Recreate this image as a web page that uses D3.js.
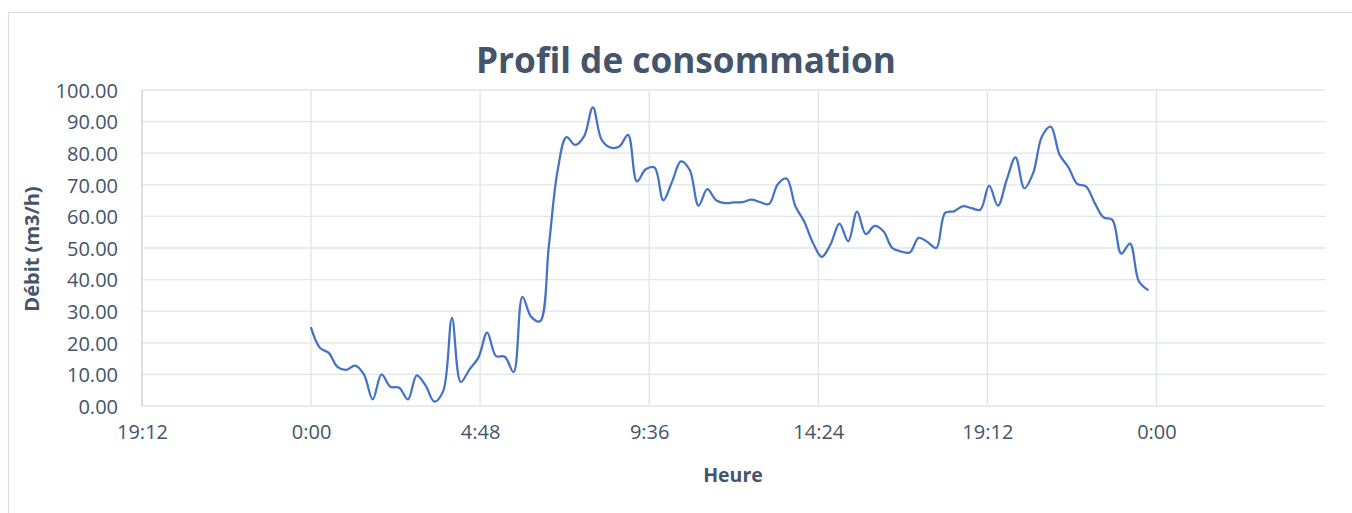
<!DOCTYPE html>
<html>
<head>
<meta charset="utf-8">
<script src="https://cdn.jsdelivr.net/npm/d3@7"></script>
<style>
  html, body { margin: 0; padding: 0; background: #fff; }
  svg { display: block; font-family: "Open Sans", sans-serif; }
  .grid line { stroke: #e1e4ea; stroke-width: 1.3; }
  .axis text { fill: #44546a; font-size: 20px; font-family: "Open Sans", sans-serif; }
  .axis path, .axis line { display: none; }
</style>
</head>
<body>
<svg id="chart" width="1352" height="513"></svg>
<script>
// BEGIN Profil de consommation CHART

// debit (m3/h), one reading every 15 min from 0:00 to 23:45
var debitValues = [
  24.7, 18.4, 16.8, 12.4, 11.4, 12.8, 10.0, 2.1, 10.0, 6.1, 5.8, 2.1,
  9.7, 6.5, 1.4, 4.7, 27.9, 7.6, 11.6, 15.3, 23.2, 15.8, 15.6, 10.7,
  34.5, 28.2, 26.8, 50.5, 74.5, 85.1, 82.6, 85.3, 94.5, 84.2, 81.8, 82.1,
  85.8, 71.1, 74.9, 75.5, 65.1, 71.0, 77.4, 74.7, 63.4, 68.6, 65.1, 64.2,
  64.4, 64.5, 65.3, 64.5, 63.9, 70.2, 72.0, 63.2, 58.4, 51.6, 47.2, 51.2,
  57.7, 52.1, 61.5, 54.4, 57.0, 55.3, 50.0, 48.9, 48.6, 53.2, 51.9, 50.0,
  61.1, 61.6, 63.2, 62.6, 62.1, 69.7, 63.4, 71.6, 78.7, 68.9, 73.7, 85.3,
  88.4, 79.5, 75.6, 70.3, 69.5, 64.2, 59.7, 58.9, 48.2, 51.4, 39.5, 36.8
];
var stepHours = 0.25;

// axis ticks, in hours from 0:00 (Excel major unit 0.2 day)
var xTickHours = [-4.8, 0, 4.8, 9.6, 14.4, 19.2, 24];
var yTickValues = [0, 10, 20, 30, 40, 50, 60, 70, 80, 90, 100];

var chartTitle = "Profil de consommation";
var xTitle = "Heure";
var yTitle = "Débit (m3/h)";

var svg = d3.select("#chart");

// chart border (only top and left are in the picture)
svg.append("path")
  .attr("d", "M8.5,513 V12.5 H1352")
  .attr("fill", "none")
  .attr("stroke", "#d9dde3")
  .attr("stroke-width", 1.2);

var x = d3.scaleLinear().domain([-4.8, 28.8]).range([142, 1325.5]);
var y = d3.scaleLinear().domain([0, 100]).range([406, 90]);

var points = debitValues.map(function (v, i) {
  return { h: i * stepHours, v: v };
});

// gridlines
svg.append("g").attr("class", "grid")
  .selectAll("line.h").data(yTickValues).enter().append("line")
  .attr("x1", x.range()[0]).attr("x2", x.range()[1])
  .attr("y1", function (d) { return y(d); })
  .attr("y2", function (d) { return y(d); });

svg.select("g.grid")
  .selectAll("line.v").data(xTickHours.slice(1)).enter().append("line")
  .attr("x1", function (d) { return x(d); })
  .attr("x2", function (d) { return x(d); })
  .attr("y1", y(100)).attr("y2", y(0));

// vertical axis line
svg.append("line")
  .attr("x1", x(-4.8)).attr("x2", x(-4.8))
  .attr("y1", y(100)).attr("y2", y(0) + 0.5)
  .attr("stroke", "#cdd3dc").attr("stroke-width", 1.5);

// y axis labels
svg.append("g").attr("class", "axis")
  .attr("transform", "translate(" + (x(-4.8) - 3) + ",0)")
  .call(d3.axisLeft(y).tickValues(yTickValues).tickSize(0).tickPadding(21)
    .tickFormat(d3.format(".2f")))
  .selectAll("text").attr("dy", "0.36em");

// x axis labels
function hm(h) {
  var m = Math.round((((h % 24) + 24) % 24) * 60);
  return Math.floor(m / 60) + ":" + d3.format("02d")(m % 60);
}
svg.append("g").attr("class", "axis")
  .attr("transform", "translate(0," + y(0) + ")")
  .call(d3.axisBottom(x).tickValues(xTickHours).tickSize(0).tickPadding(19)
    .tickFormat(hm));

// the series
var line = d3.line()
  .x(function (d) { return x(d.h); })
  .y(function (d) { return y(d.v); })
  .curve(d3.curveCatmullRom);

svg.append("path")
  .datum(points)
  .attr("d", line)
  .attr("fill", "none")
  .attr("stroke", "#4472c4")
  .attr("stroke-width", 2.25)
  .attr("stroke-linejoin", "round")
  .attr("stroke-linecap", "round");

// titles
svg.append("text")
  .attr("x", 686).attr("y", 73)
  .attr("text-anchor", "middle")
  .attr("fill", "#44546a")
  .style("font-size", "36px").style("font-weight", "bold")
  .attr("textLength", 420).attr("lengthAdjust", "spacingAndGlyphs")
  .text(chartTitle);

svg.append("text")
  .attr("x", 733).attr("y", 482)
  .attr("text-anchor", "middle")
  .attr("fill", "#44546a")
  .style("font-size", "19.5px").style("font-weight", "bold")
  .text(xTitle);

svg.append("text")
  .attr("transform", "translate(39,249) rotate(-90)")
  .attr("text-anchor", "middle")
  .attr("fill", "#44546a")
  .style("font-size", "20px").style("font-weight", "bold")
  .text(yTitle);

// END Profil de consommation CHART
</script>
</body>
</html>
